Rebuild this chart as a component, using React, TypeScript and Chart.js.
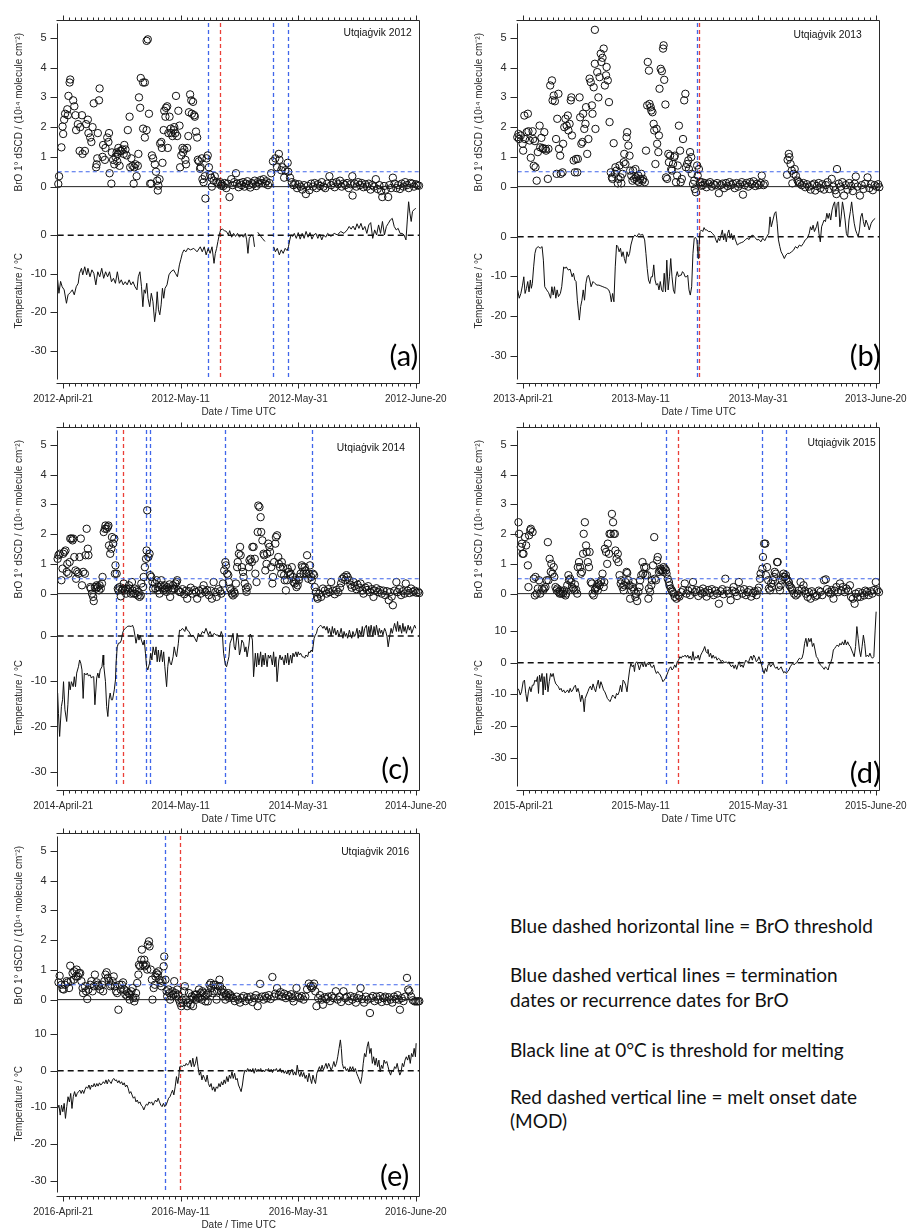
import React, { useEffect, useRef } from 'react';
import { Chart, registerables } from 'chart.js';
Chart.register(...registerables);

type Pt = [number, number | null];

const FONT = '"Liberation Sans", Arial, Helvetica, sans-serif';
const BLUE = '#4066ea';
const RED = '#ea3f38';
const AXIS = '#2a2a2a';
const W = 460;
const H = 420;

// x values are days since April 21 of each year
const X_MIN = -0.93;
const X_MAX = 60.67;
const xTickDays = [0, 20, 40, 60];
const xTickNames = ['April-21', 'May-11', 'May-31', 'June-20'];
const broTicks = [0, 1, 2, 3, 4, 5];
const tempTicks = [-30, -20, -10, 0, 10];
const BRO_MIN = -0.5;
const BRO_MAX = 5.5;
const broThreshold = 0.5;
const meltThreshold = 0;

// ---------------- 2012 ----------------
const bro2012: Pt[] = [
[-0.83,0.09],[-0.7,0.35],[-0.3,1.32],[-0.1,2.02],[0,1.77],[0.17,2.25],[0.33,2.45],[0.7,2.6],[0.8,2.4],[0.9,3.05],[1.1,3.5],[1.2,3.6],[1.7,2.9],[1.9,2.7],[2.1,2.4],[2.2,1.9],[2.5,2.1],[2.8,1.2],[2.9,2.0],[3.2,2.4],[3.3,1.1],[3.7,1.2],[3.9,2.1],[4.2,2.25],[4.3,1.8],[4.6,1.65],[4.8,1.5],[5.0,2.0],[5.2,2.8],[5.6,0.65],[5.7,0.75],[5.8,0.95],[5.9,1.8],[6.1,2.9],[6.2,3.3],[6.7,1.0],[6.8,1.4],[7.1,0.9],[7.2,1.3],[7.5,1.65],[7.7,1.5],[7.8,1.8],[7.9,0.45],[8.2,0.1],[8.3,1.15],[8.5,0.9],[8.7,0.75],[8.9,1.0],[9.1,1.15],[9.2,0.85],[9.3,1.1],[9.4,1.3],[9.6,0.7],[9.7,1.2],[9.9,1.2],[10.1,1.25],[10.3,1.1],[10.4,1.4],[10.6,1.25],[10.8,1.05],[11.0,1.9],[11.3,2.35],[11.4,0.65],[11.6,0.95],[11.8,0.7],[12.0,0.1],[12.1,0.65],[12.3,0.75],[12.5,0.35],[12.7,0.7],[12.8,1.1],[12.9,3.0],[13.1,2.65],[13.2,3.65],[13.6,3.5],[13.9,3.5],[13.6,1.95],[13.9,1.65],[14.2,4.9],[14.4,4.95],[14.2,1.9],[14.6,2.45],[14.8,0.1],[15.0,0.1],[15.1,1.05],[15.3,0.95],[15.6,0.75],[15.8,0.5],[16.0,0.2],[16.1,-0.13],[16.2,0.03],[16.4,0.25],[16.5,1.45],[16.7,1.5],[16.8,1.3],[16.9,0.8],[17.1,1.9],[17.2,2.55],[17.4,2.35],[17.5,2.65],[17.7,2.7],[17.8,1.3],[17.9,1.8],[18.1,2.35],[18.3,1.95],[18.4,1.8],[18.6,1.7],[18.8,1.9],[18.9,2.0],[19.1,1.8],[19.2,3.05],[19.4,1.7],[19.6,2.55],[19.8,2.05],[19.9,0.65],[20.1,1.05],[20.3,1.3],[20.4,1.15],[20.6,1.25],[20.8,0.9],[20.9,0.75],[21.1,1.3],[21.3,1.7],[21.4,2.5],[21.6,3.1],[21.8,2.9],[21.9,2.45],[22.1,2.85],[22.3,2.4],[22.4,2.35],[22.6,1.85],[22.8,1.65],[22.9,0.9],[23.1,0.85],[23.3,0.6],[23.4,0.65],[23.6,0.95],[23.7,0.25],[23.9,0.15],[24.1,0.35],[24.2,-0.4],[24.4,0.95],[24.6,1.05],[24.8,0.65],[25.0,0.4],[25.2,0.3],[25.3,0.0],[25.6,0.2],[25.8,0.35],[26.1,0.15],[26.4,0.1],[26.7,0.15],[26.9,0.03],
[27.0,0.08],[27.25,0.02],[27.5,0.12],[27.75,-0.05],[28.0,0.1],[28.3,-0.35],[28.6,0.25],[28.85,0.05],[29.1,0.15],[29.4,0.45],[29.6,0.1],[29.85,-0.02],[30.1,0.12],[30.35,0.05],[30.6,0.15],[30.85,0.0],[31.1,0.1],[31.35,0.18],[31.6,0.05],[31.85,-0.03],[32.1,0.12],[32.35,0.08],[32.6,0.2],[32.85,0.02],[33.1,0.15],[33.35,0.1],[33.6,0.22],[33.85,0.12],[34.1,0.25],[34.35,0.1],[34.6,0.18],[34.85,0.05],[35.1,0.12],
[35.4,0.45],[35.7,0.85],[36.1,0.95],[36.4,0.65],[36.7,1.1],[36.8,0.9],[37.1,0.55],[37.3,0.65],[37.6,0.3],[37.8,0.55],[38.2,0.8],[38.3,0.5],[38.6,0.3],[38.9,0.15],
[39.2,0.05],[39.5,0.1],[39.8,-0.05],[40.1,0.08],[40.4,0.0],[40.7,-0.1],[41.0,0.05],[41.3,-0.25],[41.6,0.02],[41.9,-0.12],[42.2,0.1],[42.5,0.0],[42.8,0.12],[43.1,-0.05],[43.4,0.08],[43.7,0.02],[44.0,0.15],[44.3,0.0],[44.6,-0.05],[44.9,0.1],[45.3,0.35],[45.6,0.05],[45.9,0.12],[46.2,-0.02],[46.5,0.15],[46.8,0.08],[47.1,0.2],[47.4,0.0],[47.7,0.1],[48.0,0.05],[48.3,0.12],[48.6,-0.05],[48.9,0.08],[49.2,0.35],[49.25,-0.3],[49.6,0.1],[49.9,0.0],[50.2,0.15],[50.5,0.05],[50.8,0.12],[51.1,-0.02],[51.4,0.08],[51.7,0.0],[52.0,0.1],[52.3,-0.1],[52.6,0.05],[52.9,0.0],[53.2,0.25],[53.5,-0.08],[53.8,0.05],[54.1,-0.15],[54.3,-0.35],[54.6,0.02],[54.9,-0.1],[55.3,-0.35],[55.5,0.05],[55.8,-0.05],[56.1,0.3],[56.4,0.1],[56.7,-0.05],[57.0,0.05],[57.3,-0.08],[57.6,0.1],[57.9,0.0],[58.2,0.15],[58.5,0.05],[58.8,-0.05],[59.1,0.12],[59.4,0.1],[59.7,0.0],[60.0,0.08],[60.3,0.05],[60.55,0.03]
];
const temp2012: Pt[] = [
[-0.94,-11.6],[-0.72,-15.1],[-0.44,-12.0],[-0.17,-13.4],[0.17,-14.2],[0.56,-17.7],[0.83,-15.5],[1.22,-14.9],[1.56,-14.2],[1.89,-15.5],[2.22,-13.4],[2.56,-12.5],[2.78,-9.9],[3.11,-8.6],[3.33,-10.3],[3.67,-8.2],[4.0,-10.3],[4.22,-8.6],[4.56,-10.8],[4.89,-9.0],[5.22,-9.9],[5.56,-12.9],[5.89,-9.5],[6.22,-10.8],[6.56,-8.6],[6.89,-11.2],[7.22,-9.5],[7.56,-10.8],[7.89,-9.5],[8.22,-12.1],[8.56,-11.2],[8.89,-12.5],[9.22,-9.5],[9.56,-12.5],[9.89,-11.6],[10.22,-12.9],[10.56,-12.1],[10.89,-12.9],[11.22,-11.6],[11.56,-12.9],[11.89,-12.1],[12.22,-13.4],[12.56,-14.2],[12.78,-10.8],[13.06,-9.5],[13.33,-13.4],[13.56,-18.6],[13.78,-14.2],[14.0,-15.1],[14.22,-12.5],[14.44,-16.4],[14.72,-18.6],[15.0,-15.1],[15.28,-17.3],[15.56,-22.5],[15.78,-19.9],[16.0,-14.7],[16.22,-19.4],[16.44,-20.7],[16.67,-18.1],[16.89,-13.8],[17.11,-16.4],[17.33,-13.8],[17.67,-12.9],[18.0,-10.3],[18.33,-9.5],[18.78,-9.0],[19.11,-9.9],[19.44,-10.8],[19.78,-7.7],[20.0,-6.4],[20.28,-4.7],[20.56,-3.8],[20.89,-4.3],[21.22,-3.4],[21.67,-3.8],[22.22,-3.4],[22.78,-4.3],[23.33,-3.0],[23.67,-4.3],[24.0,-3.0],[24.33,-5.1],[24.67,-3.4],[25.0,-4.7],[25.33,-3.0],[25.67,-7.3],[25.89,-4.7],[26.11,-3.4],[26.33,-1.6],[26.56,0.1],[26.78,1.4],[27.11,1.6],[27.44,1.2],[27.78,1.0],[28.11,0.1],[28.33,1.2],[28.67,-0.5],[29.0,0.5],[29.33,-0.3],[29.67,0.5],[30.0,-0.5],[30.33,0.1],[30.67,-0.5],[31.0,0.5],[31.22,-1.2],[31.44,-4.7],[31.67,-0.8],[32.0,0.1],[32.33,-0.3],[32.56,-3.0],[32.8,null],[33.11,0.8],[33.44,0.1],[33.89,-0.8],[34.33,-1.6],[34.8,null],[35.83,-3.0],[36.11,-4.3],[36.44,-3.4],[36.78,-5.1],[37.11,-3.8],[37.44,-4.7],[37.78,-3.4],[38.11,-4.0],[38.33,-3.0],[38.56,-1.2],[38.78,0.1],[39.06,-0.3],[39.33,0.5],[39.67,-0.8],[40.0,0.7],[40.33,-1.0],[40.67,0.5],[41.0,-0.8],[41.33,1.0],[41.67,-0.5],[42.0,0.7],[42.33,-1.0],[42.67,0.1],[43.0,0.5],[43.33,-0.8],[43.67,0.3],[44.0,-1.2],[44.33,0.1],[44.67,-0.5],[45.0,0.5],[45.56,-0.3],[46.11,0.5],[46.67,0.1],[47.22,1.0],[47.78,0.5],[48.33,1.4],[48.67,2.3],[49.0,1.6],[49.33,2.4],[49.67,1.4],[50.0,3.0],[50.33,1.8],[50.67,3.1],[51.0,1.4],[51.33,2.3],[51.67,0.5],[52.0,2.7],[52.33,3.3],[52.67,-0.8],[53.0,1.4],[53.33,0.1],[53.67,2.7],[54.0,0.5],[54.33,3.6],[54.67,0.1],[55.0,2.3],[55.33,3.1],[55.67,4.0],[56.0,4.4],[56.33,2.3],[56.67,1.4],[57.0,1.8],[57.33,0.5],[57.67,0.5],[58.0,0.1],[58.33,-1.2],[58.56,4.0],[58.78,8.8],[59.0,5.7],[59.22,3.6],[59.44,6.2],[59.78,6.8],[60.0,7.0]
];
const blue2012 = [24.6, 35.7, 38.3];
const red2012 = [26.67];

// ---------------- 2013 ----------------
const bro2013: Pt[] = [
[-1.0,1.66],[-0.8,1.77],[-0.7,1.6],[-0.4,1.72],[-0.1,1.44],[0,1.21],[0.2,2.39],[0.3,1.6],[0.6,1.83],[0.8,2.45],[0.9,1.86],[1.1,1.55],[1.3,0.97],[1.6,1.86],[1.7,1.6],[1.8,0.7],[2.0,1.53],[2.1,0.65],[2.3,0.2],[2.5,1.16],[2.8,2.05],[2.9,1.32],[3.1,1.64],[3.3,1.3],[3.4,1.27],[3.6,1.83],[3.8,1.27],[3.9,1.21],[4.2,0.26],[4.3,1.27],[4.6,3.4],[4.9,3.57],[5.0,2.9],[5.2,3.06],[5.4,2.87],[5.6,1.6],[5.7,0.43],[5.8,2.28],[6.0,3.12],[6.1,1.27],[6.3,1.04],[6.4,0.43],[6.7,0.48],[6.8,1.44],[7.0,2.0],[7.2,2.28],[7.4,2.05],[7.6,2.39],[7.7,1.89],[7.9,2.11],[8.1,2.9],[8.2,3.0],[8.3,1.72],[8.6,0.88],[8.8,0.48],[9.0,0.93],[9.2,0.48],[9.3,0.93],[9.6,3.0],[9.7,2.33],[9.9,1.44],[10.1,1.5],[10.2,2.45],[10.4,1.94],[10.6,2.11],[10.7,2.67],[10.9,1.1],[11.1,1.6],[11.3,3.63],[11.5,3.51],[11.7,2.73],[11.8,2.45],[12.0,3.34],[12.2,4.13],[12.3,1.94],[12.2,5.27],[12.6,3.85],[12.8,3.0],[13.0,3.68],[13.2,4.47],[13.3,4.19],[13.5,4.33],[13.7,4.64],[13.9,3.4],[14.1,3.74],[14.2,4.02],[14.4,3.57],[14.6,2.84],[14.7,2.17],[14.9,0.48],[15.1,0.31],[15.2,0.26],[15.4,1.46],[15.6,0.43],[15.7,0.65],[15.9,0.54],[16.1,0.11],[16.2,0.26],[16.4,0.71],[16.6,0.31],[16.7,0.11],[16.9,0.43],[17.1,0.82],[17.2,1.1],[17.4,0.76],[17.6,1.66],[17.7,1.83],[17.9,1.38],[18.1,1.04],[18.2,0.54],[18.4,0.37],[18.6,0.2],[18.7,0.54],[18.9,0.26],[19.1,0.59],[19.2,0.31],[19.4,0.2],[19.6,0.37],[19.7,0.15],[19.9,0.26],[20.1,0.43],[20.3,0.2],[20.4,0.26],[20.7,0.15],[20.9,1.21],[21.1,2.73],[21.2,4.19],[21.4,3.9],[21.5,2.78],[21.7,2.67],[21.8,2.56],[22.0,2.5],[22.2,2.11],[22.3,1.89],[22.5,0.76],[22.7,1.94],[22.8,1.44],[23.0,1.16],[23.1,1.72],[23.2,3.29],[23.4,3.96],[23.6,3.88],[23.8,4.64],[23.9,4.75],[24.0,3.59],[24.2,2.76],[24.3,0.31],[24.5,0.26],[24.7,1.1],[24.8,0.82],[25.0,1.04],[25.2,0.59],[25.3,0.54],[25.5,0.76],[25.7,0.99],[25.8,1.04],[26.0,0.15],[26.2,0.37],[26.3,0.71],[26.5,2.05],[26.7,1.21],[26.8,0.15],[27.0,0.26],[27.2,1.6],[27.4,2.9],[27.6,3.12],[27.7,0.65],[27.9,0.76],[28.1,0.88],[28.2,0.59],[28.4,1.16],[28.6,0.99],[28.7,0.43],[28.9,0.09],[29.1,0.2],[29.2,-0.08],[29.4,-0.19],[29.6,0.71],[29.7,0.37],[29.9,0.59],[30.1,0.15],[30.3,0.03],[30.4,0.15],
[30.6,0.05],[30.9,0.12],[31.2,-0.02],[31.5,0.1],[31.8,0.15],[32.1,0.0],[32.4,0.08],[32.7,0.05],[33.0,0.12],[33.3,-0.22],[33.6,0.05],[33.9,0.1],[34.2,-0.05],[34.5,0.12],[34.8,0.02],[35.1,0.15],[35.4,0.05],[35.7,0.1],[36.0,-0.05],[36.3,0.12],[36.6,0.0],[36.9,0.08],[37.2,0.15],[37.4,-0.27],[37.7,0.05],[38.0,0.12],[38.3,0.0],[38.6,0.15],[38.9,0.08],[39.2,0.18],[39.5,0.02],[39.8,0.1],[40.1,0.05],[40.4,0.12],[40.6,0.37],[40.9,0.05],[41.1,0.1],
[44.9,0.4],[45.0,0.9],[45.2,1.1],[45.3,0.99],[45.5,0.76],[45.7,0.54],[45.8,0.11],[46.0,0.43],[46.2,0.59],[46.4,0.37],[46.7,0.2],[46.9,0.15],
[47.1,0.1],[47.4,0.05],[47.7,0.12],[48.0,-0.02],[48.3,0.08],[48.6,0.0],[48.9,-0.1],[49.2,0.05],[49.5,0.1],[49.7,-0.13],[50.0,0.02],[50.3,0.12],[50.6,-0.05],[50.9,0.08],[51.2,-0.1],[51.5,0.05],[51.8,0.15],[52.1,-0.08],[52.5,0.26],[52.8,0.0],[53.1,-0.12],[53.3,-0.25],[53.4,0.59],[53.7,0.1],[54.0,0.0],[54.3,0.15],[54.6,-0.3],[54.9,0.05],[55.2,-0.1],[55.5,0.12],[55.8,0.02],[56.1,-0.15],[56.4,0.1],[56.6,0.34],[56.9,0.0],[57.3,-0.3],[57.6,0.05],[57.9,-0.08],[58.2,0.1],[58.6,0.31],[58.9,-0.05],[59.2,0.08],[59.5,-0.12],[59.8,0.05],[60.1,0.0],[60.4,0.08],[60.6,-0.02]
];
const temp2013: Pt[] = [
[-0.94,-13.4],[-0.67,-15.5],[-0.39,-14.3],[-0.11,-12.2],[0.11,-10.1],[0.33,-14.3],[0.56,-13.0],[0.78,-11.3],[1.0,-13.9],[1.22,-10.9],[1.39,-13.0],[1.56,-11.8],[1.78,-7.6],[2.0,-4.2],[2.22,-2.9],[2.56,-2.5],[2.89,-2.9],[3.22,-2.5],[3.44,-5.9],[3.67,-12.6],[4.0,-13.4],[4.33,-14.1],[4.67,-15.5],[4.89,-12.6],[5.11,-14.7],[5.33,-12.6],[5.56,-15.5],[5.78,-13.4],[6.0,-15.1],[6.33,-14.3],[6.56,-12.6],[6.89,-7.6],[7.11,-8.0],[7.33,-7.6],[7.67,-8.4],[8.0,-8.2],[8.33,-10.1],[8.56,-9.2],[8.78,-10.9],[9.0,-11.3],[9.22,-16.0],[9.56,-21.0],[9.78,-17.6],[10.0,-16.0],[10.22,-13.4],[10.44,-16.0],[10.67,-11.8],[10.89,-10.1],[11.11,-9.7],[11.33,-10.9],[11.56,-12.6],[11.89,-11.3],[12.22,-11.8],[12.56,-12.2],[12.89,-12.2],[13.22,-12.4],[13.56,-12.6],[13.89,-12.8],[14.22,-13.0],[14.56,-13.4],[14.78,-14.3],[15.0,-16.4],[15.22,-14.3],[15.44,-16.4],[15.67,-7.6],[15.89,-2.1],[16.11,-2.5],[16.33,-3.8],[16.56,-2.9],[16.78,-5.0],[17.0,-3.8],[17.22,-5.5],[17.44,-6.7],[17.67,-3.8],[17.89,-5.0],[18.11,-4.2],[18.33,-2.1],[18.67,-0.2],[19.0,0.4],[19.33,0],[19.67,0.8],[20.0,0.4],[20.33,0.6],[20.67,-0.8],[20.89,-4.2],[21.11,-8.0],[21.33,-10.9],[21.56,-11.8],[21.78,-10.1],[22.0,-10.1],[22.22,-7.1],[22.44,-10.9],[22.67,-12.2],[22.89,-11.8],[23.11,-13.4],[23.33,-11.3],[23.56,-13.4],[23.78,-13.9],[24.0,-9.2],[24.22,-13.9],[24.44,-5.9],[24.67,-13.4],[24.89,-10.1],[25.11,-5.5],[25.33,-10.1],[25.56,-13.4],[25.78,-14.3],[26.0,-10.1],[26.22,-8.8],[26.44,-10.1],[26.67,-9.7],[26.89,-9.7],[27.11,-8.8],[27.33,-9.2],[27.56,-10.1],[27.78,-10.1],[28.0,-9.7],[28.22,-13.4],[28.44,-14.7],[28.67,-12.6],[28.89,-4.2],[29.11,-0.4],[29.33,-0.2],[29.56,-0.8],[29.78,-5.5],[29.89,-2.9],[30.11,1.3],[30.33,1.7],[30.56,1.3],[30.78,2.3],[31.0,1.7],[31.22,1.7],[31.56,1.3],[31.89,1.3],[32.22,0.8],[32.56,0.2],[32.78,-0.8],[33.0,-1.5],[33.22,-0.4],[33.44,-1.0],[33.67,0.4],[33.89,1.7],[34.11,-0.8],[34.33,0.8],[34.56,-1.3],[34.78,0.8],[35.0,1.7],[35.22,-0.4],[35.44,0.8],[35.67,-0.8],[35.89,0.4],[36.11,-0.8],[36.44,-2.1],[36.78,-1.7],[37.11,-1.5],[37.44,-1.3],[37.78,-0.8],[38.11,-0.4],[38.44,-0.7],[38.78,0.2],[39.11,0.4],[39.44,-0.2],[39.78,-0.8],[40.11,-0.7],[40.44,-1.3],[40.78,-0.4],[41.11,-1.0],[41.44,0],[41.78,0.8],[42.0,5.0],[42.22,2.5],[42.5,4.2],[42.78,5.9],[43.0,6.3],[43.22,3.4],[43.44,-0.8],[43.67,-2.5],[43.89,-3.8],[44.17,-4.6],[44.44,-5.5],[44.72,-4.6],[45.0,-4.2],[45.33,-4.2],[45.67,-3.8],[46.0,-3.4],[46.33,-2.5],[46.67,-2.9],[47.0,-2.1],[47.33,-2.4],[47.67,-1.7],[48.0,-0.8],[48.33,-0.4],[48.67,0.8],[48.89,2.5],[49.11,1.7],[49.33,2.9],[49.56,1.3],[49.89,2.5],[50.11,3.8],[50.33,0.8],[50.56,-1.3],[50.78,2.5],[51.0,3.4],[51.22,4.2],[51.44,3.8],[51.67,5.9],[51.89,4.6],[52.11,5.9],[52.33,4.2],[52.56,6.7],[52.78,8.0],[53.0,8.8],[53.22,5.0],[53.44,8.4],[53.67,8.8],[53.89,2.5],[54.11,5.0],[54.33,8.8],[54.56,6.7],[54.78,4.2],[55.0,0.8],[55.22,0],[55.44,4.2],[55.67,6.3],[55.89,8.8],[56.11,5.9],[56.33,3.4],[56.56,1.7],[56.78,0.8],[57.0,0],[57.22,1.7],[57.44,5.0],[57.67,5.9],[57.89,3.8],[58.11,2.5],[58.33,4.2],[58.67,2.9],[58.89,1.7],[59.22,3.4],[59.56,4.2],[59.89,4.6]
];
const blue2013 = [29.6];
const red2013 = [29.95];

// ---------------- 2014 ----------------
const bro2014: Pt[] = [
[-0.94,1.17],[-0.8,1.29],[-0.6,1.34],[-0.3,0.45],[-0.1,0.84],[0,1.34],[0.2,1.4],[0.4,1.45],[0.6,0.73],[0.7,1.0],[0.9,0.67],[1.1,1.06],[1.2,1.85],[1.4,1.85],[1.6,1.79],[1.7,1.85],[1.9,1.23],[2.1,0.78],[2.2,0.5],[2.4,0.73],[2.6,0.67],[2.8,1.23],[3.0,1.85],[3.2,0.28],[3.4,0.73],[3.7,0.67],[3.8,1.29],[4.0,2.18],[4.2,1.51],[4.3,1.29],[4.6,0.22],[4.7,0.17],[4.9,0.0],[5.1,-0.11],[5.2,-0.25],[5.4,0.22],[5.6,0.17],[5.7,0.28],[5.9,0.22],[6.1,0.11],[6.2,0.28],[6.4,0.17],[6.6,0.34],[6.7,0.56],[6.9,2.07],[7.1,2.18],[7.2,2.29],[7.4,2.18],[7.6,2.24],[7.7,2.29],[7.8,1.62],[8.0,1.34],[8.2,1.51],[8.3,1.9],[8.5,1.68],[8.7,1.85],[8.8,0.67],[8.9,0.95],[9.1,0.67],[9.3,0.17],[9.4,0.11],[9.6,0.22],[9.8,-0.09],[10.0,0.11],[10.2,0.17],[10.3,0.34],[10.5,0.11],[10.7,0.0],[10.8,0.17],[11.0,0.11],[11.2,0.28],[11.3,0.17],[11.5,0.0],[11.7,0.39],[11.8,0.11],[12.0,0.0],[12.2,0.17],[12.3,0.0],[12.5,0.11],[12.7,-0.06],[12.8,0.06],[13.0,-0.11],[13.2,-0.06],[13.3,0.34],[13.6,0.22],[13.7,0.56],[13.9,0.89],[14.1,1.17],[14.2,1.45],[14.3,2.8],[14.5,1.23],[14.7,1.34],[14.8,0.62],[15.0,0.56],[15.2,0.39],[15.3,0.17],[15.6,0.34],[15.7,0.17],[15.9,0.45],[16.1,0.11],[16.2,0.22],[16.4,0.0],[16.6,0.28],[16.7,0.45],[16.9,0.17],[17.1,0.11],[17.2,0.28],[17.4,0.17],[17.6,0.06],[17.7,0.22],[17.9,0.17],[18.1,0.31],[18.2,-0.11],[18.4,0.11],[18.6,0.17],[18.7,0.28],[18.9,0.17],[19.1,0.34],[19.3,0.39],[19.4,0.45],[19.6,0.11],[19.8,0.06],
[20.0,0.05],[20.3,0.15],[20.6,-0.02],[20.9,0.1],[21.1,-0.17],[21.4,0.08],[21.7,0.2],[22.0,0.0],[22.3,0.12],[22.6,0.05],[22.8,-0.17],[23.1,0.1],[23.4,0.0],[23.7,0.15],[23.9,0.28],[24.2,0.05],[24.5,0.12],[24.8,-0.05],[25.1,0.1],[25.3,-0.17],[25.6,0.39],[25.9,0.05],[26.1,-0.11],[26.4,0.15],[26.7,0.08],[26.9,0.0],[27.2,0.34],
[27.4,0.78],[27.6,1.06],[27.7,0.95],[27.9,0.67],[28.1,0.62],[28.2,0.39],[28.4,0.17],[28.6,0.11],[28.7,0.0],[28.9,-0.06],[29.1,0.06],[29.2,0.0],[29.4,0.34],[29.6,0.89],[29.7,1.06],[29.9,1.34],[30.1,1.57],[30.2,1.29],[30.4,0.89],[30.6,0.73],[30.7,0.56],[30.9,0.34],[31.1,0.17],[31.2,0.06],[31.4,0.22],[31.6,0.89],[31.7,1.12],[31.9,1.17],[32.1,1.06],[32.2,1.57],[32.4,1.57],[32.6,1.17],[32.7,0.67],[32.9,0.39],[33.1,2.07],[33.2,2.96],[33.4,2.91],[33.6,2.57],[33.7,2.07],[33.9,1.79],[34.1,1.34],[34.2,1.29],[34.4,0.78],[34.6,1.0],[34.7,1.34],[34.9,1.68],[35.1,1.57],[35.2,1.4],[35.4,0.89],[35.6,0.34],[35.7,0.56],[35.9,1.06],[36.1,1.68],[36.2,1.9],[36.4,1.96],[36.6,1.23],[36.7,1.0],[36.9,0.89],[37.1,0.67],[37.2,1.06],[37.4,0.89],[37.6,0.62],[37.7,0.45],[37.9,0.11],[38.1,0.45],[38.2,0.84],[38.4,0.73],[38.6,0.62],[38.7,0.67],[38.9,0.89],[39.1,0.56],[39.2,0.39],[39.4,0.34],[39.6,0.45],[39.7,0.22],[39.9,0.28],[40.1,0.45],[40.2,0.56],[40.4,0.67],[40.6,0.95],[40.7,0.89],[40.9,0.67],[41.1,0.89],[41.2,0.78],[41.4,0.67],[41.5,1.29],[41.7,0.5],[41.8,0.67],[42.0,0.95],[42.2,0.56],[42.3,0.45],[42.5,0.67],[42.7,0.62],[42.8,0.22],[43.0,0.06],[43.2,-0.11],[43.3,-0.17],[43.6,0.0],[43.9,-0.11],[44.2,0.17],
[44.5,0.1],[44.8,0.0],[45.1,0.15],[45.3,0.05],[45.6,0.39],[45.9,0.1],[46.2,-0.02],[46.5,0.12],[46.8,0.05],[47.1,0.2],[47.3,0.35],[47.5,0.5],[47.8,0.56],[48.0,0.45],[48.2,0.62],[48.4,0.56],[48.7,0.45],[48.9,0.3],[49.1,0.2],[49.4,0.39],[49.6,0.25],[49.9,0.15],[50.1,0.3],[50.4,0.2],[50.6,0.34],[50.9,0.1],[51.1,0.0],[51.4,0.2],[51.7,0.12],[51.9,0.25],[52.2,0.05],[52.5,0.15],[52.8,-0.11],[53.0,0.1],[53.3,0.18],[53.6,0.05],[53.9,0.12],[54.2,0.0],[54.5,0.1],[54.8,-0.05],[55.1,0.08],[55.4,-0.22],[55.6,0.05],[55.9,-0.1],[56.1,-0.39],[56.4,0.1],[56.7,0.39],[56.9,0.05],[57.2,0.15],[57.5,-0.05],[57.8,0.08],[58.1,0.0],[58.3,0.34],[58.6,0.1],[58.9,0.02],[59.2,0.17],[59.5,0.05],[59.8,0.1],[60.1,0.03],[60.4,0.06],[60.6,0.02]
];
const temp2014: Pt[] = [
[-0.94,-12.6],[-0.8,-17.1],[-0.6,-22.2],[-0.3,-15.6],[-0.1,-14.1],[0.06,-10.1],[0.3,-16.3],[0.6,-18.9],[0.8,-15.2],[1.0,-10.1],[1.2,-11.9],[1.4,-10.1],[1.7,-11.2],[1.9,-9.0],[2.1,-11.2],[2.3,-8.2],[2.6,-6.8],[2.8,-5.3],[3.0,-6.0],[3.2,-7.5],[3.4,-13.8],[3.6,-8.2],[3.9,-8.6],[4.1,-8.2],[4.3,-8.8],[4.6,-8.6],[4.8,-9.3],[5.0,-9.0],[5.2,-9.0],[5.4,-15.2],[5.7,-9.3],[5.9,-8.2],[6.1,-9.3],[6.3,-7.5],[6.6,-6.8],[6.8,-4.2],[6.9,-6.4],[7.2,-10.1],[7.4,-15.6],[7.6,-17.8],[7.8,-14.1],[8.0,-12.6],[8.2,-14.1],[8.4,-14.1],[8.7,-11.9],[8.9,-9.7],[9.0,-6.0],[9.2,-2.4],[9.4,-1.6],[9.7,-1.5],[9.9,-0.9],[10.1,0.6],[10.3,1.3],[10.6,1.7],[10.9,2.1],[11.2,2.2],[11.6,2.1],[11.8,2.4],[12.0,1.7],[12.2,0.2],[12.4,-1.6],[12.7,0.4],[12.9,-0.9],[13.1,0.2],[13.3,-0.9],[13.6,-2.0],[13.8,-0.9],[14.0,-3.8],[14.2,-6.8],[14.4,-7.5],[14.7,-6.0],[14.9,-3.8],[15.1,-5.3],[15.3,-2.4],[15.6,-4.2],[15.8,-2.4],[16.0,-5.7],[16.2,-3.1],[16.4,-5.7],[16.7,-3.1],[16.9,-5.7],[17.1,-3.5],[17.3,-6.8],[17.6,-11.2],[17.8,-6.8],[18.0,-4.6],[18.2,-6.0],[18.4,-6.4],[18.7,-4.6],[18.9,-2.4],[19.1,-3.8],[19.3,-4.6],[19.6,-1.6],[19.8,1.3],[20.0,1.2],[20.3,1.7],[20.7,1.0],[20.9,2.1],[21.1,1.3],[21.4,1.0],[21.8,-0.1],[22.1,0.2],[22.4,-0.5],[22.7,-1.3],[23.0,0.6],[23.3,-0.1],[23.7,1.0],[24.0,0.6],[24.3,1.7],[24.7,0.2],[25.0,1.0],[25.3,-0.1],[25.7,0.6],[26.0,0.2],[26.3,0.2],[26.7,-0.1],[26.9,1.0],[27.1,0.2],[27.3,-3.8],[27.6,-6.4],[27.8,-6.8],[28.0,-5.7],[28.2,-4.6],[28.4,-1.6],[28.7,-0.5],[28.9,0.6],[29.1,-2.4],[29.3,-3.1],[29.6,0.6],[29.8,-0.9],[30.0,-4.2],[30.2,-3.1],[30.4,-0.9],[30.7,-1.6],[30.9,-3.5],[31.1,-2.4],[31.3,-4.6],[31.6,-2.0],[31.8,0.4],[32.0,0.2],[32.2,-0.9],[32.4,-9.0],[32.7,-3.8],[32.9,-6.8],[33.1,-3.8],[33.3,-6.4],[33.6,-3.5],[33.8,-6.8],[34.0,-4.2],[34.2,-6.4],[34.4,-3.8],[34.7,-6.8],[34.9,-4.2],[35.1,-4.9],[35.3,-4.2],[35.6,-6.4],[35.8,-3.5],[36.0,-6.8],[36.2,-4.6],[36.4,-10.1],[36.7,-5.3],[36.9,-4.2],[37.1,-5.3],[37.3,-4.6],[37.6,-6.4],[37.8,-4.2],[38.0,-6.0],[38.2,-3.8],[38.4,-6.4],[38.7,-4.2],[38.9,-6.0],[39.1,-3.8],[39.3,-4.6],[39.6,-3.5],[39.8,-4.6],[40.0,-3.5],[40.2,-4.2],[40.4,-3.8],[40.7,-4.6],[40.9,-4.6],[41.1,-4.9],[41.3,-4.2],[41.6,-4.6],[41.8,-3.5],[42.0,-3.7],[42.2,-3.1],[42.4,-3.5],[42.7,-0.5],[42.9,0.2],[43.1,0.6],[43.3,1.7],[43.6,2.1],[43.8,2.4],[44.0,2.1],[44.2,1.7],[44.4,2.2],[44.7,1.3],[44.9,2.1],[45.1,0.6],[45.3,1.7],[45.6,0],[45.8,2.1],[46.0,0.6],[46.2,1.7],[46.4,0.2],[46.7,1.3],[46.9,-0.1],[47.1,0.6],[47.3,1.7],[47.6,-0.5],[47.8,1.0],[48.0,-0.1],[48.2,0.6],[48.4,-0.5],[48.7,1.3],[48.9,0.2],[49.1,-0.5],[49.3,1.0],[49.6,-0.1],[49.8,0.6],[50.0,1.7],[50.2,-0.5],[50.4,1.3],[50.7,0.2],[50.9,2.1],[51.1,-0.1],[51.3,1.7],[51.6,2.4],[51.8,-0.1],[52.0,2.1],[52.2,0.2],[52.4,2.4],[52.7,-0.1],[52.9,2.1],[53.1,0.2],[53.3,2.4],[53.6,0.2],[53.8,1.7],[54.0,0.6],[54.2,1.3],[54.4,0.2],[54.7,1.7],[54.9,1.0],[55.1,-0.1],[55.3,-2.4],[55.6,0.2],[55.8,1.7],[56.0,0.6],[56.2,1.7],[56.4,2.8],[56.7,1.0],[56.9,3.2],[57.1,1.0],[57.3,2.4],[57.6,0.6],[57.8,2.8],[58.0,1.0],[58.2,2.1],[58.4,0.6],[58.7,2.4],[58.9,1.3],[59.1,2.1],[59.3,0.6],[59.6,1.7],[59.8,2.4],[60.0,1.7]
];
const blue2014 = [8.95, 14.1, 14.7, 27.6, 42.3];
const red2014 = [10.2];

// ---------------- 2015 ----------------
const bro2015: Pt[] = [
[-0.8,2.4],[-0.7,2.01],[-0.4,1.57],[-0.2,1.68],[-0.1,1.34],[0.06,1.34],[0.3,1.9],[0.5,1.62],[0.8,0.95],[0.9,0.22],[1.0,1.96],[1.2,2.13],[1.3,2.18],[1.6,2.07],[1.8,0.5],[2.0,-0.06],[2.1,0.56],[2.3,0.0],[2.5,0.17],[2.7,0.45],[2.9,0.0],[3.2,0.17],[3.4,0.11],[3.6,0.17],[3.8,0.22],[4.0,0.45],[4.2,1.73],[4.3,0.45],[4.5,1.17],[4.7,0.73],[4.8,1.0],[5.0,0.67],[5.2,0.89],[5.3,0.56],[5.5,0.22],[5.7,0.11],[5.8,0.17],[6.0,0.06],[6.2,0.0],[6.3,0.11],[6.5,0.0],[6.7,0.06],[6.8,0.0],[7.0,0.11],[7.2,-0.06],[7.3,0.0],[7.5,0.28],[7.7,0.62],[7.8,0.45],[8.0,0.5],[8.2,0.39],[8.3,0.22],[8.5,0.17],[8.7,0.11],[8.8,0.31],[9.0,0.13],[9.2,0.0],[9.3,0.89],[9.5,1.06],[9.7,0.89],[9.8,0.67],[10.0,0.73],[10.2,1.34],[10.3,2.01],[10.5,2.4],[10.7,1.62],[10.8,1.4],[11.0,1.06],[11.2,0.89],[11.3,1.4],[11.5,0.39],[11.7,0.34],[11.8,0.0],[12.0,-0.06],[12.2,0.11],[12.3,0.17],[12.5,0.22],[12.7,0.11],[12.8,0.34],[13.0,0.28],[13.2,0.39],[13.3,0.45],[13.5,0.67],[13.7,0.22],[13.8,0.39],[13.9,1.51],[14.1,1.4],[14.3,1.0],[14.4,1.68],[14.6,1.34],[14.7,2.01],[14.9,2.01],[15.1,2.68],[15.3,2.4],[15.4,2.01],[15.6,2.01],[15.7,1.45],[15.9,1.17],[16.1,1.34],[16.2,1.06],[16.4,0.62],[16.6,0.34],[16.7,0.45],[16.9,0.22],[17.1,0.11],[17.2,0.28],[17.4,0.39],[17.6,0.73],[17.7,0.69],[17.9,0.45],[18.1,0.28],[18.2,-0.17],[18.4,0.11],[18.6,0.22],[18.7,0.39],[18.9,0.11],[19.1,-0.11],[19.2,0.0],[19.4,-0.25],[19.6,0.06],[19.8,0.22],[19.9,0.45],[20.1,0.62],[20.3,1.06],[20.4,0.67],[20.6,0.89],[20.8,0.62],[20.9,0.89],[21.1,0.62],[21.3,-0.17],[21.4,0.17],[21.6,0.06],[21.8,0.28],[21.9,0.45],[22.1,0.95],[22.3,1.9],[22.4,0.5],[22.6,0.45],[22.8,1.12],[22.9,1.23],[23.1,0.73],[23.3,0.78],[23.4,0.84],[23.6,0.78],[23.8,0.73],[23.9,0.89],[24.1,0.84],[24.3,0.78],[24.4,0.67],[24.6,0.5],[24.8,0.39],[24.9,0.28],[25.1,0.17],[25.3,0.11],[25.4,0.06],[25.6,0.0],[25.8,-0.11],[26.1,-0.17],[26.4,-0.06],
[26.6,-0.1],[26.9,0.05],[27.2,0.12],[27.5,0.34],[27.8,0.0],[28.1,0.1],[28.4,-0.05],[28.7,0.15],[28.9,0.39],[29.2,0.05],[29.5,0.12],[29.8,-0.08],[30.1,0.1],[30.4,0.0],[30.6,0.17],[30.9,0.05],[31.2,-0.1],[31.5,0.12],[31.8,0.02],[32.1,0.15],[32.4,-0.05],[32.7,0.1],[33.0,0.0],[33.3,-0.34],[33.6,0.08],[33.9,0.15],[34.1,-0.02],[34.4,0.5],[34.7,0.1],[35.0,0.0],[35.3,-0.22],[35.6,0.1],[35.8,0.22],[36.1,0.05],[36.4,-0.08],[36.7,0.39],[37.0,0.12],[37.3,0.0],[37.6,0.15],[37.9,-0.05],[38.2,0.05],[38.5,0.12],[38.8,-0.1],[39.1,0.02],[39.4,0.08],[39.7,-0.05],[39.9,0.1],[40.1,0.2],
[40.3,0.5],[40.4,0.67],[40.7,0.84],[40.8,1.23],[41.0,1.68],[41.2,1.68],[41.3,0.62],[41.5,0.89],[41.7,0.45],[41.8,0.17],[42.0,0.11],[42.2,0.34],[42.3,0.22],[42.5,0.45],[42.7,0.56],[42.8,0.73],[43.0,0.67],[43.2,1.06],[43.3,1.06],[43.5,0.22],[43.7,0.11],[43.8,0.28],[44.0,0.45],[44.2,0.56],[44.3,0.67],[44.5,0.56],[44.7,0.62],[44.8,0.5],[45.0,0.45],[45.2,0.39],[45.3,0.28],[45.5,0.22],[45.7,0.17],[45.8,0.11],[46.1,0.0],[46.4,-0.06],[46.7,0.0],
[46.9,0.1],[47.2,0.39],[47.4,0.15],[47.7,0.28],[47.9,0.1],[48.1,0.0],[48.4,-0.11],[48.6,0.05],[48.9,-0.17],[49.1,0.08],[49.4,0.0],[49.7,-0.1],[50.0,-0.06],[50.3,0.1],[50.6,0.06],[50.9,-0.05],[51.2,0.45],[51.5,0.48],[51.7,0.15],[52.0,0.05],[52.3,0.0],[52.5,0.12],[52.8,-0.17],[53.0,0.1],[53.3,0.22],[53.6,0.05],[53.9,0.34],[54.1,0.1],[54.4,0.22],[54.7,0.05],[55.0,0.17],[55.3,0.1],[55.6,0.28],[55.8,-0.11],[56.1,-0.17],[56.4,-0.34],[56.6,0.0],[56.9,-0.12],[57.1,0.05],[57.4,-0.11],[57.7,0.02],[58.0,-0.06],[58.2,0.1],[58.5,0.06],[58.8,-0.05],[59.1,0.08],[59.4,0.0],[59.7,0.12],[60.0,0.39],[60.3,0.11],[60.55,0.05]
];
const temp2015: Pt[] = [
[-0.94,-8.1],[-0.72,-8.6],[-0.5,-10.2],[-0.28,-9.2],[0,-6.0],[0.22,-5.5],[0.44,-9.7],[0.67,-12.3],[0.89,-9.2],[1.11,-7.6],[1.33,-9.2],[1.56,-7.1],[1.78,-7.1],[2.0,-5.5],[2.22,-6.0],[2.44,-4.4],[2.61,-9.7],[2.78,-3.9],[3.0,-6.0],[3.22,-3.4],[3.39,-10.2],[3.56,-4.4],[3.78,-8.6],[4.0,-3.4],[4.22,-9.2],[4.44,-6.0],[4.67,-3.4],[4.89,-4.4],[5.11,-3.4],[5.33,-5.5],[5.56,-6.7],[5.78,-7.1],[6.0,-7.6],[6.22,-8.6],[6.44,-8.1],[6.67,-9.2],[6.89,-8.6],[7.11,-9.5],[7.33,-9.2],[7.56,-8.6],[7.78,-9.5],[8.0,-8.1],[8.22,-9.2],[8.44,-8.6],[8.67,-7.6],[8.89,-7.1],[9.11,-9.2],[9.33,-8.1],[9.56,-9.7],[9.78,-12.3],[10.0,-10.2],[10.22,-11.8],[10.39,-15.5],[10.56,-11.3],[10.78,-10.2],[11.0,-9.2],[11.22,-8.1],[11.44,-7.4],[11.67,-8.6],[11.89,-6.7],[12.11,-8.1],[12.33,-9.2],[12.56,-7.1],[12.78,-5.5],[13.0,-8.1],[13.22,-6.0],[13.44,-7.1],[13.67,-8.6],[13.89,-9.2],[14.11,-10.2],[14.33,-11.3],[14.56,-11.8],[14.78,-12.3],[15.0,-11.3],[15.22,-10.2],[15.44,-10.7],[15.67,-11.3],[15.89,-9.7],[16.11,-10.2],[16.33,-9.2],[16.56,-7.1],[16.78,-9.2],[17.0,-5.5],[17.22,-6.0],[17.44,-7.1],[17.67,-9.2],[17.89,-5.5],[18.11,-2.3],[18.33,-0.2],[18.56,-1.3],[18.78,-0.7],[18.94,-2.8],[19.11,-0.2],[19.33,0.3],[19.56,-0.7],[19.78,-2.3],[20.0,-0.7],[20.22,-0.2],[20.44,-1.3],[20.67,0.3],[20.89,-1.3],[21.11,-0.2],[21.33,-0.7],[21.56,-0.2],[21.78,-1.3],[22.0,-1.5],[22.22,-0.7],[22.44,-2.3],[22.67,-3.4],[22.89,-2.8],[23.11,-3.4],[23.33,-3.9],[23.56,-4.9],[23.78,-6.0],[24.0,-5.5],[24.22,-4.9],[24.44,-3.9],[24.67,-2.8],[24.89,-1.8],[25.11,-1.3],[25.33,-2.3],[25.56,-1.8],[25.78,-0.7],[26.0,-1.5],[26.22,0.3],[26.44,0.8],[26.67,1.9],[26.89,1.4],[27.11,2.1],[27.33,1.9],[27.56,2.4],[27.78,1.7],[28.0,2.4],[28.22,1.4],[28.44,2.1],[28.67,0.8],[28.89,3.5],[29.11,0.8],[29.33,1.9],[29.56,1.4],[29.78,2.4],[30.0,0.8],[30.22,2.4],[30.44,3.2],[30.67,4.0],[30.89,5.1],[31.11,3.5],[31.33,3.0],[31.44,4.2],[31.67,1.9],[31.89,3.0],[32.11,1.4],[32.33,2.4],[32.56,1.4],[32.78,1.9],[33.0,0.8],[33.22,1.4],[33.44,1.1],[33.67,0.3],[33.89,0.8],[34.11,0.3],[34.33,0],[34.56,0.3],[34.78,-0.2],[35.0,0.3],[35.22,-0.7],[35.44,-1.3],[35.67,-0.7],[35.89,-1.8],[36.11,-0.7],[36.33,-2.1],[36.56,-0.7],[36.78,0.3],[37.0,-1.3],[37.22,-0.7],[37.44,-1.5],[37.67,-0.2],[37.89,0.8],[38.11,0.3],[38.33,0],[38.56,1.4],[38.78,2.1],[39.0,0.8],[39.22,2.4],[39.44,1.7],[39.67,0.3],[39.89,0.8],[40.11,1.9],[40.33,0.8],[40.56,-0.7],[40.78,-2.3],[41.0,-3.4],[41.22,-1.8],[41.44,-2.8],[41.67,-0.7],[41.89,-0.2],[42.11,-1.3],[42.33,-0.7],[42.56,-0.2],[42.78,-1.3],[43.0,-1.8],[43.22,-1.3],[43.44,-2.3],[43.67,-1.8],[43.89,-1.3],[44.11,-2.3],[44.33,-3.2],[44.56,-2.8],[44.78,-3.4],[45.0,-2.8],[45.22,-2.3],[45.44,-1.3],[45.67,-0.7],[45.89,-0.2],[46.11,-0.7],[46.33,-0.2],[46.56,0],[46.78,0.8],[47.0,1.4],[47.22,1.1],[47.44,1.4],[47.67,3.0],[47.89,6.1],[48.11,7.7],[48.33,5.1],[48.56,7.7],[48.78,6.6],[49.0,7.7],[49.22,5.1],[49.44,6.1],[49.67,4.0],[49.89,1.9],[50.11,1.4],[50.33,0.3],[50.56,-0.7],[50.78,-1.1],[51.0,-1.5],[51.22,-2.1],[51.44,-1.3],[51.67,-1.8],[51.89,-2.3],[52.11,-0.7],[52.33,0],[52.56,1.4],[52.78,4.0],[53.0,4.5],[53.22,5.1],[53.44,5.6],[53.67,5.1],[53.89,6.1],[54.11,5.6],[54.33,6.6],[54.56,5.6],[54.78,7.2],[55.0,5.6],[55.22,6.6],[55.44,5.6],[55.67,5.1],[55.89,4.0],[56.11,3.0],[56.33,1.9],[56.56,5.1],[56.78,11.4],[57.0,7.7],[57.22,4.0],[57.44,1.9],[57.67,5.1],[57.89,8.7],[58.11,6.1],[58.33,1.9],[58.56,2.4],[58.78,1.9],[59.0,3.0],[59.22,1.9],[59.44,1.4],[59.67,1.9],[59.89,10.3],[60.06,16.1]
];
const blue2015 = [24.3, 40.7, 44.8];
const red2015 = [26.3];

// ---------------- 2016 ----------------
const bro2016: Pt[] = [
[-0.8,0.58],[-0.6,0.8],[-0.3,0.5],[-0.1,0.36],[0.1,0.34],[0.3,0.5],[0.6,0.62],[0.8,0.58],[1.0,0.39],[1.2,1.14],[1.3,0.62],[1.6,0.89],[1.8,0.67],[1.9,0.95],[2.2,0.78],[2.3,1.01],[2.5,0.78],[2.7,0.89],[2.9,0.89],[3.1,0.62],[3.3,0.39],[3.4,0.22],[3.7,0.45],[3.9,0.28],[4.1,0.02],[4.3,0.34],[4.6,0.5],[4.8,0.62],[5.0,0.28],[5.2,0.45],[5.4,0.84],[5.7,0.58],[5.9,0.5],[6.1,0.45],[6.3,0.34],[6.6,0.5],[6.8,0.28],[7.0,0.62],[7.2,0.84],[7.4,0.92],[7.6,0.73],[7.8,0.62],[8.0,0.45],[8.2,0.5],[8.4,0.62],[8.6,0.78],[8.8,0.45],[9.0,0.28],[9.2,0.22],[9.4,-0.34],[9.6,0.5],[9.8,0.34],[10.0,0.5],[10.2,0.58],[10.4,0.34],[10.6,0.17],[10.8,0.28],[10.9,0.11],[11.1,0.22],[11.3,0.0],[11.4,0.17],[11.6,0.28],[11.8,0.39],[11.9,0.06],[12.1,-0.06],[12.3,0.06],[12.4,0.22],[12.6,0.56],[12.8,0.84],[12.9,1.17],[13.1,1.12],[13.3,1.34],[13.4,1.68],[13.6,1.17],[13.8,1.34],[13.9,1.12],[14.1,1.17],[14.3,1.01],[14.4,1.85],[14.6,1.96],[14.7,1.79],[14.9,1.01],[15.1,0.67],[15.2,0.0],[15.4,0.39],[15.6,0.5],[15.7,0.78],[15.9,0.89],[16.1,0.84],[16.2,0.95],[16.4,0.67],[16.6,0.56],[16.7,0.45],[16.9,0.62],[17.1,1.12],[17.2,1.45],[17.4,0.67],[17.6,0.28],[17.7,0.11],[17.9,0.34],[18.1,0.22],[18.2,0.0],[18.4,0.11],[18.6,0.28],[18.7,0.17],[18.9,0.62],[19.1,0.22],[19.2,0.11],[19.4,0.34],[19.6,0.17],[19.7,0.0],[19.9,-0.11],[20.1,-0.22],[20.2,0.0],[20.4,-0.11],[20.6,0.28],[20.7,0.45],[20.9,0.0],[21.1,-0.22],[21.2,-0.11],[21.4,0.22],[21.6,0.0],[21.7,-0.17],[21.9,0.11],[22.1,-0.22],[22.2,0.06],[22.4,0.17],[22.6,0.0],[22.7,0.17],[22.9,0.06],[23.1,0.34],[23.2,0.06],[23.4,0.22],[23.6,0.0],[23.7,0.28],[23.9,0.22],[24.1,0.11],[24.2,-0.06],[24.4,0.17],[24.6,-0.06],[24.7,0.22],[24.9,0.5],[25.1,0.56],[25.2,0.39],[25.4,0.22],[25.6,0.5],[25.7,0.28],[25.9,0.5],[26.1,0.0],[26.2,0.28],[26.4,0.45],[26.6,0.67],[26.7,0.45],[26.9,0.28],[27.1,0.34],[27.2,0.11],[27.4,0.22],[27.6,0.0],[27.7,0.17],[27.9,0.11],[28.1,0.22],[28.2,0.06],[28.4,0.17],[28.6,0.11],
[28.9,0.05],[29.2,-0.05],[29.5,0.1],[29.8,0.0],[30.1,-0.1],[30.4,0.05],[30.7,0.12],[31.0,-0.05],[31.3,0.08],[31.6,0.0],[31.9,0.1],[32.2,-0.08],[32.5,0.05],[32.8,0.15],[33.1,-0.22],[33.3,0.05],[33.5,0.53],[33.8,0.1],[34.1,0.0],[34.4,0.12],[34.7,0.05],[35.0,0.15],[35.3,0.02],[35.6,0.76],[35.9,0.1],[36.1,0.2],[36.4,0.39],[36.7,0.15],[37.0,0.25],[37.3,0.1],[37.6,0.2],[37.9,0.05],[38.2,0.15],[38.5,0.1],[38.8,0.18],[39.0,0.05],[39.2,-0.06],[39.5,0.12],[39.7,0.39],[40.0,0.1],[40.3,0.05],[40.6,0.12],[40.9,0.0],[41.2,0.1],[41.5,0.35],[41.8,0.54],[42.1,0.45],[42.3,0.39],[42.5,0.45],[42.7,0.54],[42.9,0.28],[43.1,-0.22],[43.4,0.05],[43.7,0.15],[44.0,0.0],[44.2,-0.17],[44.5,0.08],[44.8,0.02],[45.1,0.1],[45.4,-0.05],[45.7,0.12],[46.0,0.05],[46.4,0.28],[46.7,0.0],[47.0,0.1],[47.3,-0.08],[47.7,0.28],[48.0,0.05],[48.3,0.1],[48.6,-0.05],[48.9,0.12],[49.2,0.0],[49.5,0.08],[49.8,-0.1],[50.1,0.05],[50.4,0.15],[50.6,0.39],[50.9,0.02],[51.2,-0.1],[51.5,0.1],[51.8,0.0],[52.2,-0.45],[52.4,0.05],[52.7,0.12],[53.0,-0.05],[53.3,0.1],[53.6,0.0],[53.9,0.12],[54.2,-0.08],[54.5,0.05],[54.8,0.1],[55.1,-0.05],[55.4,0.08],[55.7,0.0],[56.0,-0.1],[56.3,0.1],[56.6,0.02],[56.9,0.15],[57.1,0.0],[57.3,-0.34],[57.6,0.05],[57.9,-0.05],[58.2,0.1],[58.5,0.73],[58.7,0.34],[58.9,0.28],[59.2,0.1],[59.5,-0.02],[59.8,-0.06],[60.1,-0.06],[60.4,-0.06],[60.6,-0.05]
];
const temp2016: Pt[] = [
[-0.94,-10.3],[-0.72,-9.4],[-0.5,-12.1],[-0.28,-9.4],[-0.06,-11.2],[0.17,-8.9],[0.39,-13.0],[0.61,-9.8],[0.83,-7.1],[1.06,-8.5],[1.28,-6.2],[1.5,-10.3],[1.72,-7.1],[1.94,-5.7],[2.17,-7.1],[2.39,-6.2],[2.61,-5.7],[2.83,-5.3],[3.06,-6.2],[3.28,-5.3],[3.5,-6.2],[3.72,-5.1],[3.94,-4.4],[4.17,-4.8],[4.39,-3.9],[4.61,-5.1],[4.83,-3.9],[5.06,-4.4],[5.28,-3.5],[5.5,-4.4],[5.72,-3.5],[5.94,-4.2],[6.17,-3.3],[6.39,-3.9],[6.61,-3.6],[6.83,-3.0],[7.06,-3.5],[7.28,-2.5],[7.5,-3.6],[7.72,-2.4],[7.94,-3.0],[8.17,-3.5],[8.39,-2.5],[8.61,-2.1],[8.83,-2.7],[9.06,-2.5],[9.28,-3.3],[9.5,-2.7],[9.72,-3.5],[9.94,-3.0],[10.17,-3.9],[10.39,-3.3],[10.61,-4.4],[10.83,-3.9],[11.06,-4.8],[11.28,-6.2],[11.5,-5.7],[11.72,-6.6],[11.94,-7.5],[12.17,-7.1],[12.39,-8.5],[12.61,-8.0],[12.83,-8.9],[13.06,-8.5],[13.28,-9.4],[13.5,-9.8],[13.72,-10.7],[13.94,-9.8],[14.17,-9.1],[14.39,-9.4],[14.61,-8.5],[14.83,-8.9],[15.06,-8.5],[15.28,-9.4],[15.5,-8.7],[15.72,-8.0],[15.94,-8.5],[16.17,-7.5],[16.39,-8.5],[16.61,-9.4],[16.83,-9.8],[17.06,-8.9],[17.28,-9.8],[17.5,-9.4],[17.72,-8.5],[17.94,-7.5],[18.17,-7.1],[18.39,-6.2],[18.61,-5.3],[18.83,-6.6],[19.06,-4.4],[19.28,-1.6],[19.5,-3.5],[19.67,-1.6],[19.83,1.1],[20.06,1.3],[20.28,1.1],[20.5,1.5],[20.72,1.3],[20.94,2.0],[21.17,1.5],[21.39,2.0],[21.61,2.9],[21.83,1.1],[22.06,3.4],[22.28,1.1],[22.5,2.0],[22.72,3.8],[22.94,1.1],[23.17,-1.2],[23.39,-0.3],[23.61,-2.5],[23.83,-1.2],[24.06,-2.1],[24.28,-3.0],[24.5,-1.2],[24.72,-3.5],[24.94,-4.4],[25.17,-3.5],[25.39,-5.3],[25.61,-4.4],[25.83,-5.7],[26.06,-4.4],[26.28,-4.8],[26.5,-3.5],[26.72,-4.4],[26.94,-3.0],[27.17,-3.9],[27.39,-2.5],[27.61,-3.5],[27.83,-1.6],[28.06,-3.0],[28.28,-1.2],[28.5,-2.1],[28.72,-0.3],[28.94,-2.1],[29.17,-0.7],[29.39,-2.5],[29.61,-2.1],[29.83,-3.9],[30.06,-4.8],[30.28,-5.7],[30.5,-3.9],[30.72,-1.2],[30.94,0.2],[31.17,-0.3],[31.39,0.6],[31.61,0],[31.83,0.4],[32.06,-0.3],[32.28,0.6],[32.5,-0.7],[32.72,0.6],[32.94,-0.3],[33.17,0.4],[33.39,0],[33.61,0.6],[33.83,-0.3],[34.06,0.2],[34.28,-0.3],[34.5,0.4],[34.72,0],[34.94,0.6],[35.17,-0.3],[35.39,0.4],[35.61,-0.5],[35.83,0.4],[36.06,0],[36.28,0.6],[36.5,-0.3],[36.72,0.2],[36.94,0.6],[37.17,-0.5],[37.39,0.2],[37.61,-0.7],[37.83,0],[38.06,-0.9],[38.28,0.2],[38.5,-1.2],[38.72,-0.3],[38.94,0.4],[39.17,-1.2],[39.39,-0.3],[39.61,-1.2],[39.83,1.5],[40.06,-0.7],[40.28,-1.6],[40.5,-0.3],[40.72,-1.6],[40.94,-0.5],[41.17,-2.1],[41.39,-1.2],[41.61,-3.0],[41.83,-0.7],[42.06,-2.1],[42.28,-3.5],[42.5,-1.2],[42.72,-2.5],[42.94,-3.5],[43.17,-0.7],[43.39,0.2],[43.61,1.1],[43.83,0],[44.06,1.5],[44.28,0.2],[44.5,1.1],[44.72,2.0],[44.94,0.6],[45.17,2.0],[45.39,1.1],[45.61,0],[45.83,1.1],[46.06,2.5],[46.28,1.1],[46.5,2.0],[46.72,3.8],[46.94,6.1],[47.17,8.4],[47.33,6.1],[47.5,2.0],[47.72,0.6],[47.94,1.1],[48.17,0],[48.39,0.6],[48.61,-0.3],[48.83,1.1],[49.06,0.2],[49.28,1.1],[49.5,-0.3],[49.72,0.6],[49.94,-0.7],[50.17,-1.6],[50.39,-2.5],[50.61,-3.5],[50.83,-1.6],[51.06,2.0],[51.28,4.7],[51.5,3.8],[51.72,6.5],[51.94,7.9],[52.17,4.7],[52.39,6.1],[52.61,2.0],[52.83,3.8],[53.06,1.5],[53.28,3.4],[53.5,1.1],[53.72,2.9],[53.94,-0.3],[54.17,1.5],[54.39,0.6],[54.61,2.9],[54.83,2.0],[55.06,2.5],[55.28,1.1],[55.5,-0.3],[55.72,-1.2],[55.94,0.2],[56.17,-0.3],[56.39,1.1],[56.61,0.6],[56.83,2.0],[57.06,0.2],[57.28,-1.2],[57.5,-0.3],[57.72,2.0],[57.94,1.1],[58.17,2.9],[58.39,3.8],[58.61,2.9],[58.83,4.3],[59.06,2.0],[59.28,4.7],[59.5,3.8],[59.72,6.1],[59.94,3.8],[60.06,7.5]
];
const blue2016 = [17.4];
const red2016 = [19.8];

type PanelDef = {
  year: number; letter: string; bro: Pt[]; temp: Pt[]; blue: number[]; red: number[];
  tMin: number; tMax: number; left: number; top: number;
  siteRight: number; siteY: number; letterRight: number; letterY: number;
};

const panels: PanelDef[] = [
  { year: 2012, letter: 'a', bro: bro2012, temp: temp2012, blue: blue2012, red: red2012, tMin: -37.68, tMax: 8.8, left: 0, top: 0, siteRight: 411.7, siteY: 32.7, letterRight: 418.3, letterY: 355 },
  { year: 2013, letter: 'b', bro: bro2013, temp: temp2013, blue: blue2013, red: red2013, tMin: -36.1, tMax: 8.87, left: 460, top: 0, siteRight: 401.7, siteY: 35, letterRight: 420.7, letterY: 355 },
  { year: 2014, letter: 'c', bro: bro2014, temp: temp2014, blue: blue2014, red: red2014, tMin: -33.38, tMax: 6.08, left: 0, top: 407, siteRight: 405, siteY: 41.3, letterRight: 409.3, letterY: 361.3 },
  { year: 2015, letter: 'd', bro: bro2015, temp: temp2015, blue: blue2015, red: red2015, tMin: -39.25, tMax: 17.11, left: 460, top: 407, siteRight: 415.7, siteY: 36.3, letterRight: 420.7, letterY: 364.7 },
  { year: 2016, letter: 'e', bro: bro2016, temp: temp2016, blue: blue2016, red: red2016, tMin: -33.35, tMax: 15.33, left: 0, top: 813, siteRight: 409.3, siteY: 38.7, letterRight: 409.3, letterY: 362 },
];

const legendLines = [
  { text: 'Blue dashed horizontal line = BrO threshold', y: 926 },
  { text: 'Blue dashed vertical lines = termination', y: 975 },
  { text: 'dates or recurrence dates for BrO', y: 1000 },
  { text: 'Black line at 0°C is threshold for melting', y: 1050 },
  { text: 'Red dashed vertical line = melt onset date', y: 1097 },
  { text: '(MOD)', y: 1121 },
];

function makeVLinePlugin(blue: number[], red: number[]) {
  return {
    id: 'vlines',
    beforeDatasetsDraw(chart: any) {
      const { ctx, chartArea } = chart;
      const x = chart.scales.x;
      ctx.save();
      ctx.lineWidth = 1.3;
      ctx.setLineDash([4, 3]);
      const draw = (arr: number[], color: string) => {
        ctx.strokeStyle = color;
        ctx.beginPath();
        for (const d of arr) {
          const px = Math.round(x.getPixelForValue(d)) + 0.5;
          ctx.moveTo(px, chartArea.top);
          ctx.lineTo(px, chartArea.bottom);
        }
        ctx.stroke();
      };
      draw(blue, BLUE);
      draw(red, RED);
      ctx.restore();
    },
  };
}

const framePlugin = {
  id: 'igorFrame',
  afterDraw(chart: any) {
    const { ctx, chartArea } = chart;
    const x = chart.scales.x;
    const L = Math.floor(chartArea.left) + 0.5;
    const R = Math.floor(chartArea.right) + 0.5;
    const T = Math.round(chartArea.top) + 0.5;
    const B = Math.round(chartArea.bottom) - 0.5;
    const yTop = T - 3;
    const yBot = B + 4;
    ctx.save();
    ctx.strokeStyle = AXIS;
    ctx.lineWidth = 1;
    ctx.setLineDash([]);
    ctx.beginPath();
    ctx.moveTo(L, T); ctx.lineTo(L, B);
    ctx.moveTo(L - 1, yTop); ctx.lineTo(R, yTop);
    ctx.moveTo(R, yTop); ctx.lineTo(R, yBot);
    ctx.moveTo(L - 1, yBot); ctx.lineTo(R, yBot);
    for (let d = 0; d <= 60; d++) {
      const px = Math.round(x.getPixelForValue(d)) + 0.5;
      const len = d % 20 === 0 ? 5 : 3;
      ctx.moveTo(px, yTop); ctx.lineTo(px, yTop - len);
      ctx.moveTo(px, yBot); ctx.lineTo(px, yBot + len);
    }
    for (const id of ['yB', 'yT']) {
      const s = chart.scales[id];
      for (const t of s.ticks) {
        const py = Math.round(s.getPixelForValue(t.value)) + 0.5;
        ctx.moveTo(L - 7, py); ctx.lineTo(L, py);
      }
    }
    ctx.stroke();
    ctx.restore();
  },
};

function Panel({ def }: { def: PanelDef }) {
  const ref = useRef<HTMLCanvasElement>(null);
  useEffect(() => {
    const canvas = ref.current;
    if (!canvas) return;
    const flat = (v: number) => [{ x: X_MIN, y: v }, { x: X_MAX, y: v }];
    const chart = new Chart(canvas, {
      type: 'scatter',
      data: {
        datasets: [
          { type: 'line', label: 'BrO zero', data: flat(0), yAxisID: 'yB', borderColor: '#222', borderWidth: 1, pointRadius: 0 } as any,
          { type: 'line', label: 'BrO threshold', data: flat(broThreshold), yAxisID: 'yB', borderColor: BLUE, borderWidth: 1.2, borderDash: [4, 3], pointRadius: 0 } as any,
          { type: 'scatter', label: 'BrO 1° dSCD', data: def.bro.map(([x, y]) => ({ x, y })), yAxisID: 'yB', pointStyle: 'circle', pointRadius: 3.7, borderColor: '#111', borderWidth: 1, backgroundColor: 'rgba(0,0,0,0)', clip: 6 } as any,
          { type: 'line', label: 'Melt threshold', data: flat(meltThreshold), yAxisID: 'yT', borderColor: '#111', borderWidth: 1.6, borderDash: [6, 4], pointRadius: 0 } as any,
          { type: 'line', label: 'Temperature', data: def.temp.map(([x, y]) => ({ x, y })), yAxisID: 'yT', borderColor: '#111', borderWidth: 1, pointRadius: 0, spanGaps: false, tension: 0 } as any,
        ],
      },
      options: {
        animation: false,
        responsive: false,
        events: [],
        layout: { padding: { top: 23, right: W - 427.3, left: 0, bottom: 0 } },
        plugins: { legend: { display: false }, tooltip: { enabled: false } },
        scales: {
          x: {
            type: 'linear', position: 'bottom', min: X_MIN, max: X_MAX,
            afterBuildTicks: (s: any) => { s.ticks = xTickDays.map((v) => ({ value: v })); },
            afterFit: (s: any) => { s.height = H - 380; },
            grid: { display: false, drawTicks: false },
            border: { display: false },
            ticks: {
              autoSkip: false, maxRotation: 0, minRotation: 0, padding: 13,
              font: { family: FONT, size: 10 }, color: AXIS,
              callback: (v: any) => { const i = xTickDays.indexOf(Number(v)); return i >= 0 ? `${def.year}-${xTickNames[i]}` : ''; },
            },
            title: { display: true, text: 'Date / Time UTC', font: { family: FONT, size: 10 }, color: AXIS, padding: { top: 0, bottom: 2 } },
          },
          yT: {
            type: 'linear', position: 'left', stack: 'left', stackWeight: 1, min: def.tMin, max: def.tMax,
            afterBuildTicks: (s: any) => { s.ticks = tempTicks.filter((v) => v >= def.tMin && v <= def.tMax).map((v) => ({ value: v })); },
            afterFit: (s: any) => { s.width = 57.7; },
            grid: { display: false, drawTicks: false },
            border: { display: false },
            ticks: { padding: 11, font: { family: FONT, size: 11 }, color: AXIS },
            title: { display: true, text: 'Temperature / °C', font: { family: FONT, size: 10 }, color: AXIS, padding: { top: 13, bottom: 0 } },
          },
          yB: {
            type: 'linear', position: 'left', stack: 'left', stackWeight: 1, min: BRO_MIN, max: BRO_MAX,
            afterBuildTicks: (s: any) => { s.ticks = broTicks.map((v) => ({ value: v })); },
            afterFit: (s: any) => { s.width = 57.7; },
            grid: { display: false, drawTicks: false },
            border: { display: false },
            ticks: { padding: 11, font: { family: FONT, size: 11 }, color: AXIS },
            title: { display: true, text: 'BrO 1° dSCD / (10¹⁴ molecule cm⁻²)', font: { family: FONT, size: 10 }, color: AXIS, padding: { top: 13, bottom: 0 } },
          },
        },
      } as any,
      plugins: [makeVLinePlugin(def.blue, def.red), framePlugin],
    });
    return () => chart.destroy();
  }, [def]);

  return (
    <div style={{ position: 'absolute', left: def.left, top: def.top, width: W, height: H }}>
      <canvas ref={ref} width={W} height={H} style={{ display: 'block', width: W, height: H }} />
      <div style={{ position: 'absolute', right: W - def.siteRight, top: def.siteY - 6, fontFamily: FONT, fontSize: 10.3, lineHeight: '12px', color: '#111', whiteSpace: 'nowrap' }}>
        Utqiaġvik {def.year}
      </div>
      <div style={{ position: 'absolute', right: W - def.letterRight, top: def.letterY - 18, fontFamily: 'Lato, "Open Sans", sans-serif', fontSize: 29, lineHeight: '36px', color: '#000', whiteSpace: 'nowrap' }}>
        ({def.letter})
      </div>
    </div>
  );
}

export default function App() {
  return (
    <div style={{ position: 'absolute', left: 0, top: 0, width: 914, height: 1230, overflow: 'hidden', background: '#fff' }}>
      {panels.map((p) => <Panel key={p.year} def={p} />)}
      {legendLines.map((l) => (
        <div key={l.text} style={{ position: 'absolute', left: 510, top: l.y - 12, fontFamily: 'Lato, "Open Sans", sans-serif', fontSize: 19, lineHeight: '24px', color: '#111', whiteSpace: 'nowrap' }}>
          {l.text}
        </div>
      ))}
    </div>
  );
}
